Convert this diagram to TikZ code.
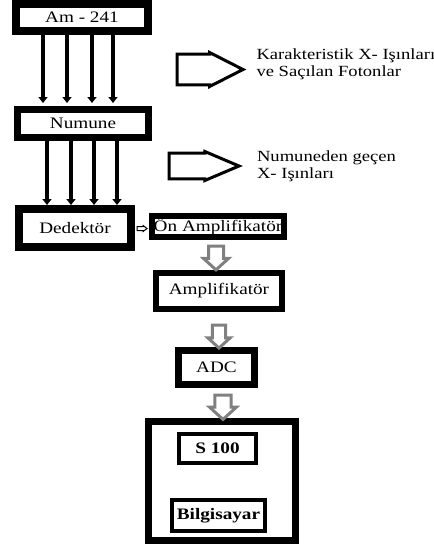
\documentclass[tikz,border=0pt]{standalone}
\usepackage{fontspec}
\setmainfont[FakeStretch=1.2]{Liberation Serif}
\usetikzlibrary{arrows.meta,positioning,shapes.arrows,calc}

\begin{document}
\begin{tikzpicture}[
    x=1pt, y=-1pt,
    font=\fontsize{16}{17}\selectfont,
    blk/.style={rectangle, draw=black, fill=white, inner sep=0pt, align=center},
    beam/.style={-{Triangle[width=9pt,length=6pt]}, line width=4pt},
    hollow/.style={single arrow, draw=black, fill=white, line width=3pt, inner xsep=0pt,
        single arrow head extend=1pt, anchor=tail},
    grayarrow/.style={single arrow, draw=gray, fill=white, line width=3pt, inner xsep=0pt, inner ysep=7pt,
        single arrow head extend=1pt, single arrow tip angle=95, shape border rotate=270, anchor=tail},
    note/.style={align=left, inner sep=0pt, font=\fontsize{15.5}{17}\selectfont}
]
\useasboundingbox (0,0) rectangle (434,547);

% Source, sample and detector
\node[blk, line width=8pt, minimum width=132pt, minimum height=27pt] (am) at (82,17.5) {Am - 241};
\node[blk, line width=7pt, minimum width=131pt, minimum height=28pt] (num) at (83,123.5) {Numune};
\node[blk, line width=8pt, minimum width=112pt, minimum height=38pt] (ded) at (75,228) {Dedektör};

% Beams
\foreach \x in {43,67,92,113}
    \draw[beam, shorten >=3pt] (am.south -| \x,0) -- (num.north -| \x,0);
\foreach \x in {47,71,94,117}
    \draw[beam] (num.south -| \x,0) -- (ded.north -| \x,0);

% Side notes
\node[hollow, minimum height=66pt, minimum width=34pt, inner ysep=7.5pt, single arrow tip angle=54] (hA) at (175.5,69.5) {};
\node[note, right=10pt of hA.tip, yshift=5pt] (lab1) {Karakteristik X- Işınları\\ve Saçılan Fotonlar};
\node[hollow, minimum height=70pt, minimum width=29pt, inner ysep=6pt, single arrow tip angle=46] (hB) at (167.5,166) {};
\node[note, right=14pt of hB.tip] (lab2) {Numuneden geçen\\X- Işınları};

% Electronics chain
\node[blk, line width=6pt, minimum width=132pt, minimum height=21pt] (onamp) at (218,226.5) {Ön Amplifikatör};
\node[blk, line width=6pt, minimum width=126pt, minimum height=36pt] (amp) at (219,291) {Amplifikatör};
\node[blk, line width=7pt, minimum width=76pt, minimum height=34pt] (adc) at (216.5,367.5) {ADC};
\node[blk, line width=7pt, minimum width=147pt, minimum height=119pt] (pc) at (222,481) {};
\node[blk, line width=4pt, minimum width=77pt, minimum height=29pt, font=\fontsize{16}{17}\selectfont\bfseries] (s100) at (217.5,448.5) {S 100};
\node[blk, line width=4pt, minimum width=93pt, minimum height=31pt, font=\fontsize{16}{17}\selectfont\bfseries] (bilg) at (218.5,515.5) {Bilgisayar};

\node[hollow, line width=1pt, minimum height=10pt, minimum width=6pt, inner ysep=1.5pt, single arrow tip angle=74] (sa) at ($(ded.east)+(1.5,0.5)$) {};
\node[grayarrow, minimum height=20pt, minimum width=25pt] (g1) at ($(onamp.south)+(-2,4.5)$) {};
\node[grayarrow, minimum height=18pt, minimum width=22pt] (g2) at ($(amp.south)+(0,11.5)$) {};
\node[grayarrow, minimum height=22pt, minimum width=27pt] (g3) at ($(adc.south)+(6.5,5.5)$) {};

\end{tikzpicture}
\end{document}
